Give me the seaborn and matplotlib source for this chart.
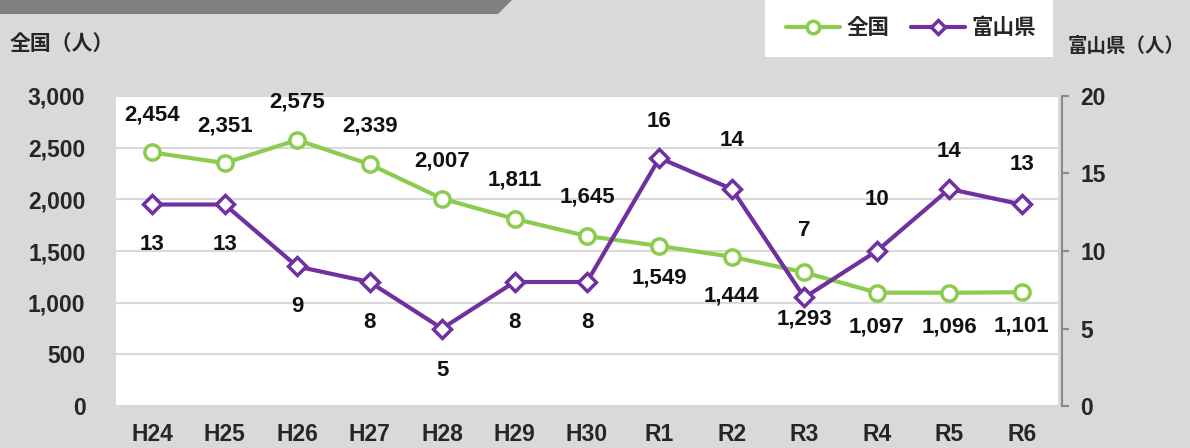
import matplotlib
matplotlib.use("Agg")
import pandas as pd
import seaborn as sns
from matplotlib import pyplot as plt
from matplotlib.patches import Polygon, Rectangle
from matplotlib.lines import Line2D

# 年度
years = ["H24", "H25", "H26", "H27", "H28", "H29", "H30", "R1", "R2", "R3", "R4", "R5", "R6"]
# 全国（人）
zenkoku = [2454, 2351, 2575, 2339, 2007, 1811, 1645, 1549, 1444, 1293, 1097, 1096, 1101]
# 富山県（人）
toyama = [13, 13, 9, 8, 5, 8, 8, 16, 14, 7, 10, 14, 13]

# ラベル位置 (px, +は上)
zen_off = [37, 37, 38, 38, 38, 39, 39, -32, -39, -47, -34, -34, -34]
toy_off = [-40, -40, -40, -40, -42, -40, -40, 36, 48, 67, 51, 37, 40]

GREEN = "#8DCB4F"
PURPLE = "#7030A0"
BG = "#D9D9D9"
FS = 16.5

sns.set_style("white")
plt.rcParams['font.family'] = ['Liberation Sans', 'Noto Sans CJK JP', 'DejaVu Sans']
plt.rcParams['font.weight'] = 'bold'

df = pd.DataFrame({"year": years, "zenkoku": zenkoku, "toyama": toyama})
df["x"] = range(len(df))

fig = plt.figure(figsize=(11.9, 4.48), dpi=100, facecolor=BG)
ax = fig.add_axes([116 / 1190, 42 / 448, 942 / 1190, 310 / 448])
ax.set_facecolor("white")
ax2 = ax.twinx()

sns.lineplot(data=df, x="x", y="zenkoku", ax=ax, color=GREEN, lw=3,
             marker="o", ms=11, mfc="white", mec=GREEN, mew=2.5, zorder=3)
sns.lineplot(data=df, x="x", y="toyama", ax=ax2, color=PURPLE, lw=3,
             marker="D", ms=9.5, mfc="white", mec=PURPLE, mew=2.5, zorder=3)

ax.set_xlim(-0.5, len(years) - 0.5)
ax.set_ylim(0, 3000)
ax2.set_ylim(0, 20)
ax.set_yticks(range(0, 3001, 500))
ax.set_yticklabels([f"{v:,}" for v in range(0, 3001, 500)])
ax2.set_yticks(range(0, 21, 5))
ax.set_xticks(df["x"])
ax.set_xticklabels(years)
ax.grid(axis="y", color="#D9D9D9", lw=1.5)
ax.set_xlabel("")
ax.set_ylabel("")
ax2.set_ylabel("")

for s in ["top", "left", "right", "bottom"]:
    ax.spines[s].set_visible(False)
for s in ["top", "left", "bottom"]:
    ax2.spines[s].set_visible(False)
ax2.spines["right"].set_color("#888888")
ax2.spines["right"].set_linewidth(1.5)
ax2.spines["right"].set_position(("outward", 3))

ax.tick_params(axis="y", length=0, labelsize=FS, pad=22)
ax.tick_params(axis="x", length=0, labelsize=FS, pad=12)
ax2.tick_params(axis="y", length=5, width=1.5, color="#888888", labelsize=FS, pad=8)

for i, v in enumerate(zenkoku):
    ax.annotate(f"{v:,}", (i, v), xytext=(0, zen_off[i]), textcoords="offset pixels",
                ha="center", va="center", fontsize=16, fontweight="bold", color="#111111")
for i, v in enumerate(toyama):
    ax2.annotate(f"{v}", (i, v), xytext=(0, toy_off[i]), textcoords="offset pixels",
                 ha="center", va="center", fontsize=16, fontweight="bold", color="#111111")

# 上部の帯
fig.patches.append(Polygon([[0, 1], [512 / 1190, 1], [498 / 1190, 1 - 14 / 448], [0, 1 - 14 / 448]],
                           closed=True, transform=fig.transFigure, facecolor="#808080",
                           edgecolor="none", zorder=0))
# 凡例の白枠
fig.patches.append(Rectangle((765 / 1190, 1 - 57 / 448), 288 / 1190, 57 / 448,
                             transform=fig.transFigure, facecolor="white", edgecolor="none", zorder=0))
handles = [
    Line2D([], [], color=GREEN, lw=3, marker="o", ms=9, mfc="white", mec=GREEN, mew=2.5),
    Line2D([], [], color=PURPLE, lw=3, marker="D", ms=7.5, mfc="white", mec=PURPLE, mew=2.5),
]
fig.legend(handles, ["全国", "富山県"], loc="center", bbox_to_anchor=(911 / 1190, 1 - 29 / 448),
           ncol=2, frameon=False, handlelength=2.5, columnspacing=1.0,
           handletextpad=0.3, prop={"weight": "bold", "size": 15.5})

fig.text(10 / 1190, 1 - 44 / 448, "全国（人）", ha="left", va="center", fontsize=15, fontweight="bold")
fig.text(1068 / 1190, 1 - 47 / 448, "富山県（人）", ha="left", va="center", fontsize=14, fontweight="bold")

fig.savefig("out.png", dpi=100, facecolor=BG)
